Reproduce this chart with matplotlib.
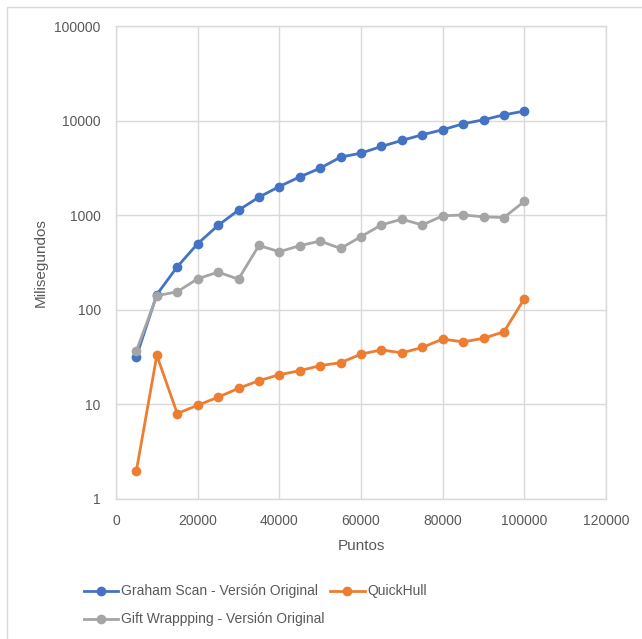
import matplotlib
matplotlib.use('Agg')
import matplotlib.pyplot as plt
from matplotlib.patches import Rectangle

plt.rcParams['font.family'] = ['Liberation Sans', 'DejaVu Sans']

puntos = [5000, 10000, 15000, 20000, 25000, 30000, 35000, 40000, 45000, 50000,
          55000, 60000, 65000, 70000, 75000, 80000, 85000, 90000, 95000, 100000]

graham = [32, 145, 285, 500, 780, 1130, 1550, 2010, 2540, 3140,
          4110, 4530, 5330, 6170, 7080, 8000, 9250, 10200, 11500, 12600]
quickhull = [2, 33, 8, 9.8, 11.9, 14.8, 17.8, 20.6, 22.7, 25.7,
             27.6, 34, 37.7, 35, 40, 49, 45.8, 50, 58.5, 131]
gift = [37, 141, 155, 213, 250, 211, 479, 411, 476, 533,
        445, 594, 790, 907, 789, 984, 1007, 960, 945, 1400]

W, H = 642, 639
fig = plt.figure(figsize=(W / 100, H / 100), dpi=100)

# marco exterior del gráfico
fig.patches.append(Rectangle((7 / W, -0.1), 1.2, 1.1 - 7 / H,
                             transform=fig.transFigure, fill=False,
                             edgecolor='#D9D9D9', linewidth=1))

ax = fig.add_axes([116 / W, (H - 499) / H, 490 / W, 473 / H])

grid_c = '#D9D9D9'
text_c = '#595959'

ax.plot(puntos, graham, color='#4472C4', lw=2, marker='o', ms=6,
        label='Graham Scan - Versión Original', zorder=3)
ax.plot(puntos, gift, color='#A5A5A5', lw=2, marker='o', ms=6,
        label='Gift Wrappping - Versión Original', zorder=3)
ax.plot(puntos, quickhull, color='#ED7D31', lw=2, marker='o', ms=6,
        label='QuickHull', zorder=3)

ax.set_yscale('log')
ax.set_ylim(1, 100000)
ax.set_xlim(0, 120000)
ax.set_xticks(range(0, 120001, 20000))
ax.set_yticks([1, 10, 100, 1000, 10000, 100000])
ax.set_yticklabels(['1', '10', '100', '1000', '10000', '100000'])
ax.yaxis.set_minor_locator(matplotlib.ticker.NullLocator())

ax.grid(True, color=grid_c, linewidth=1)
ax.set_axisbelow(True)
for s in ax.spines.values():
    s.set_color(grid_c)
    s.set_linewidth(1)
ax.tick_params(length=0, labelsize=10, colors=text_c, pad=11)

ax.set_xlabel('Puntos', fontsize=11, color=text_c, labelpad=8)
ax.set_ylabel('Milisegundos', fontsize=11, color=text_c, labelpad=5)

fig.legend(loc='upper left', bbox_to_anchor=(71 / W, 1 - 572 / H), ncol=2,
           frameon=False, fontsize=10, labelcolor=text_c, handlelength=2.5,
           handletextpad=0.2, columnspacing=0.4, labelspacing=1.0)

fig.savefig('out.png', dpi=100)
